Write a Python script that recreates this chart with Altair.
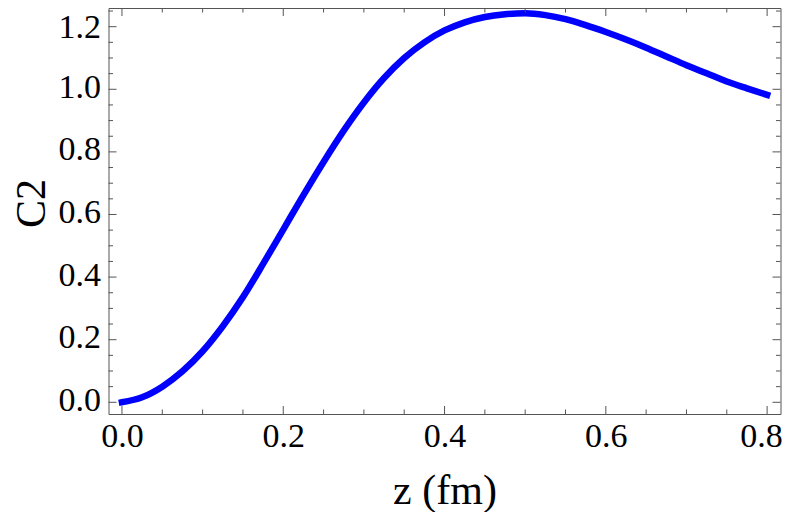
import altair as alt
import pandas as pd

# Curve values
z_vals = [0.0, 0.025, 0.05, 0.075, 0.1, 0.125, 0.15, 0.175, 0.2, 0.225, 0.25,
          0.275, 0.3, 0.325, 0.35, 0.375, 0.4, 0.425, 0.45, 0.475, 0.5, 0.525,
          0.55, 0.575, 0.6, 0.625, 0.65, 0.675, 0.7, 0.725, 0.75, 0.775, 0.8]
c2_vals = [0.0, 0.016, 0.05, 0.099, 0.163, 0.243, 0.336, 0.442, 0.552, 0.662, 0.768,
           0.868, 0.958, 1.036, 1.1, 1.15, 1.188, 1.214, 1.231, 1.240, 1.243, 1.237,
           1.224, 1.205, 1.183, 1.159, 1.133, 1.105, 1.077, 1.051, 1.025, 1.003, 0.982]

# Tick positions
x_major = [0.0, 0.2, 0.4, 0.6, 0.8]
x_minor = [0.05, 0.1, 0.15, 0.25, 0.3, 0.35, 0.45, 0.5, 0.55, 0.65, 0.7, 0.75]
y_major = [0.0, 0.2, 0.4, 0.6, 0.8, 1.0, 1.2]
y_minor = [0.05, 0.1, 0.15, 0.25, 0.3, 0.35, 0.45, 0.5, 0.55, 0.65, 0.7, 0.75,
           0.85, 0.9, 0.95, 1.05, 1.1, 1.15, 1.25]

W = 672
H = 406
FRAME = "#555555"
MAJ = 8
MIN = 4.5

xs = alt.Scale(domain=[-0.0167, 0.8166], nice=False, zero=False)
ys = alt.Scale(domain=[-0.0374, 1.2597], nice=False, zero=False)

x_axis = alt.Axis(values=x_major, format=".1f", labelPadding=5,
                  labelOffset=alt.condition("datum.value >= 0.79", alt.value(-6), alt.value(0)),
                  titleX=W / 2, titleY=89, titleBaseline="alphabetic")
y_axis = alt.Axis(values=y_major, format=".1f", labelPadding=8,
                  labelOffset=alt.condition("datum.value >= 1.19", alt.value(1), alt.value(-2)),
                  titleX=-64, titleY=195, titleBaseline="alphabetic",
                  titleAlign="center", titleAngle=270)

X = alt.X("z:Q", scale=xs, title="z (fm)", axis=x_axis)
Y = alt.Y("C2:Q", scale=ys, title="C2", axis=y_axis)

curve = pd.DataFrame({"z": z_vals, "C2": c2_vals})

line = alt.Chart(curve).mark_line(
    color="#0000ff", strokeWidth=6.5, strokeCap="square", interpolate="monotone"
).encode(x=X, y=Y)

def xticks(vals, length):
    df = pd.DataFrame({"z": vals})
    base = alt.Chart(df).mark_rule(color=FRAME, strokeWidth=1)
    bottom = base.encode(x=X, y=alt.value(H), y2=alt.value(H - length))
    top = base.encode(x=X, y=alt.value(0), y2=alt.value(length))
    return [bottom, top]

def yticks(vals, length):
    df = pd.DataFrame({"C2": vals})
    base = alt.Chart(df).mark_rule(color=FRAME, strokeWidth=1)
    left = base.encode(y=Y, x=alt.value(0), x2=alt.value(length))
    right = base.encode(y=Y, x=alt.value(W), x2=alt.value(W - length))
    return [left, right]

layers = ([line] + xticks(x_major, MAJ) + xticks(x_minor, MIN) +
          yticks(y_major, MAJ) + yticks(y_minor, MIN))

chart = alt.layer(*layers).properties(
    width=W, height=H,
    autosize=alt.AutoSizeParams(type="none"),
    padding={"left": 100.5, "top": 0, "right": 1.5, "bottom": 98},
).configure_view(
    stroke=FRAME, strokeWidth=1
).configure_axis(
    domain=False, ticks=False, grid=False,
    labelFont="Liberation Serif", labelFontSize=34, labelColor="black",
    labelFlush=False, labelBound=False, labelOverlap=False,
    titleFont="Liberation Serif", titleFontSize=42, titleFontWeight="normal",
    titleColor="black",
)

chart.save("out.html", embed_options={"renderer": "svg", "actions": False})
